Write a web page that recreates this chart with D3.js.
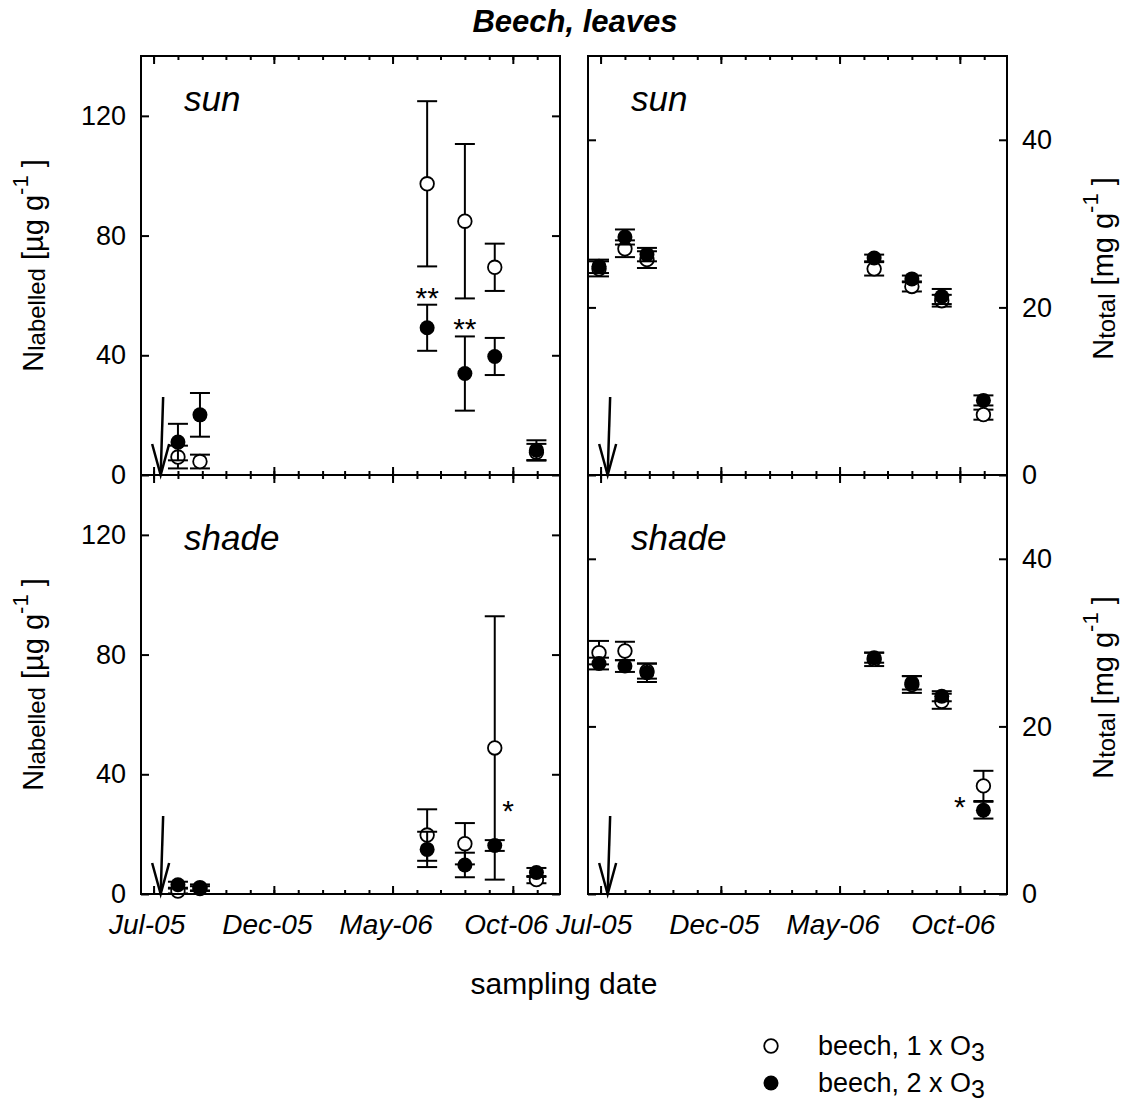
<!DOCTYPE html>
<html>
<head>
<meta charset="utf-8">
<script src="https://cdn.jsdelivr.net/npm/d3@7"></script>
<style>
  body { margin: 0; background: #fff; }
  svg text { font-family: "Liberation Sans", Arial, Helvetica, sans-serif; fill: #000; }
</style>
</head>
<body>
<svg id="chart" width="1130" height="1108"></svg>
<script>
// Beech leaves: 15N labelled N and total N, sun vs shade leaves, 1x and 2x O3

// sampling dates, shared by all panels
const sampleDates = ["2005-06-29", "2005-08-01", "2005-08-29", "2006-06-14", "2006-08-01", "2006-09-08", "2006-10-31"];
const labellingDate = "2005-07-10";

// N labelled [µg g-1], sun leaves (no value before labelling)
const sunLab1x    = [null, 6.0, 4.5, 97.3, 84.8, 69.4, 7.6];
const sunLab1xErr = [null, 3.8, 2.3, 27.6, 25.8, 7.9, 2.8];
const sunLab2x    = [null, 11.0, 20.1, 49.2, 33.9, 39.6, 8.3];
const sunLab2xErr = [null, 6.1, 7.3, 7.7, 12.4, 6.2, 3.3];

// N total [mg g-1], sun leaves
const sunTot1x    = [24.6, 27.0, 25.7, 24.6, 22.5, 20.8, 7.2];
const sunTot1xErr = [0.9, 1.0, 1.0, 0.8, 0.6, 0.7, 0.6];
const sunTot2x    = [24.9, 28.4, 26.3, 25.9, 23.4, 21.3, 8.9];
const sunTot2xErr = [0.8, 0.9, 0.8, 0.4, 0.4, 0.9, 0.6];

// N labelled [µg g-1], shade leaves
const shadeLab1x    = [null, 1.0, 1.8, 19.7, 16.8, 48.8, 4.8];
const shadeLab1xErr = [null, 0.8, 0.8, 8.6, 6.9, 44.0, 1.2];
const shadeLab2x    = [null, 3.1, 2.2, 14.9, 9.7, 16.2, 7.2];
const shadeLab2xErr = [null, 1.0, 1.0, 5.9, 4.1, 1.8, 1.5];

// N total [mg g-1], shade leaves
const shadeTot1x    = [28.8, 29.0, 26.6, 28.0, 25.0, 23.0, 12.9];
const shadeTot1xErr = [1.4, 1.1, 0.9, 0.8, 1.0, 0.9, 1.8];
const shadeTot2x    = [27.5, 27.2, 26.4, 28.2, 25.2, 23.6, 10.0];
const shadeTot2xErr = [0.7, 0.7, 1.1, 0.6, 0.8, 0.6, 1.0];

// significance marks
const sunLabStars   = [{date: "2006-06-14", value: 61.4, text: "**"}, {date: "2006-08-01", value: 51.1, text: "**"}];
const sunTotStars   = [];
const shadeLabStars = [{date: "2006-09-25", value: 30.2, text: "*"}];
const shadeTotStars = [{date: "2006-10-01", value: 11.2, text: "*"}];

// axis ticks
const majorTicks = ["2005-07-01", "2005-12-01", "2006-05-01", "2006-10-01"];
const labTicks = [0, 40, 80, 120];
const totTicks = [0, 20, 40];

const parse = d3.timeParse("%Y-%m-%d");
const fmt = d3.timeFormat("%b-%y");

// layout
const colX = [141, 588], rowY = [56, 475], PW = 419, PH = 419;
const labelBase = [111, 550];

const svg = d3.select("#chart");

const x = d3.scaleTime()
  .domain([parse("2005-06-15"), parse("2006-11-30")])
  .range([0, PW]);
const minorTicks = d3.timeMonth.range(x.domain()[0], x.domain()[1]);

const yLab = d3.scaleLinear().domain([0, 140]).range([PH, 0]);
const yTot = d3.scaleLinear().domain([0, 50]).range([PH, 0]);

const panels = [
  {col: 0, row: 0, label: "sun",   y: yLab, ticks: labTicks, open: sunLab1x,   openErr: sunLab1xErr,   filled: sunLab2x,   filledErr: sunLab2xErr,   stars: sunLabStars},
  {col: 1, row: 0, label: "sun",   y: yTot, ticks: totTicks, open: sunTot1x,   openErr: sunTot1xErr,   filled: sunTot2x,   filledErr: sunTot2xErr,   stars: sunTotStars},
  {col: 0, row: 1, label: "shade", y: yLab, ticks: labTicks, open: shadeLab1x, openErr: shadeLab1xErr, filled: shadeLab2x, filledErr: shadeLab2xErr, stars: shadeLabStars},
  {col: 1, row: 1, label: "shade", y: yTot, ticks: totTicks, open: shadeTot1x, openErr: shadeTot1xErr, filled: shadeTot2x, filledErr: shadeTot2xErr, stars: shadeTotStars}
];

// style the tick groups made by d3.axis
function styleAxis(a) {
  a.select(".domain").remove();
  a.selectAll("line").attr("stroke", "#000").attr("stroke-width", 2);
  a.selectAll("text").attr("font-size", 27).attr("fill", "#000")
    .attr("font-family", "'Liberation Sans', Arial, sans-serif");
}

// one series: error bars then circles
function drawSeries(g, y, values, errs, filled) {
  const pts = sampleDates.map((d, i) => ({date: parse(d), v: values[i], e: errs[i]}))
    .filter(d => d.v !== null);

  const eb = g.append("g").selectAll("g").data(pts).enter().append("g")
    .attr("stroke", "#000").attr("stroke-width", 2);
  eb.append("line")
    .attr("x1", d => x(d.date)).attr("x2", d => x(d.date))
    .attr("y1", d => y(d.v - d.e)).attr("y2", d => y(d.v + d.e));
  eb.append("line")
    .attr("x1", d => x(d.date) - 10).attr("x2", d => x(d.date) + 10)
    .attr("y1", d => y(d.v + d.e)).attr("y2", d => y(d.v + d.e));
  eb.append("line")
    .attr("x1", d => x(d.date) - 10).attr("x2", d => x(d.date) + 10)
    .attr("y1", d => y(d.v - d.e)).attr("y2", d => y(d.v - d.e));

  g.append("g").selectAll("circle").data(pts).enter().append("circle")
    .attr("cx", d => x(d.date))
    .attr("cy", d => y(d.v))
    .attr("r", filled ? 7.5 : 6.8)
    .attr("fill", filled ? "#000" : "#fff")
    .attr("stroke", "#000")
    .attr("stroke-width", filled ? 0 : 1.8);
}

panels.forEach(p => {
  const g = svg.append("g").attr("transform", `translate(${colX[p.col]},${rowY[p.row]})`);
  const y = p.y;

  // month ticks, bottom and top, pointing inward
  g.append("g").attr("transform", `translate(0,${PH})`)
    .call(d3.axisBottom(x).tickValues(minorTicks).tickSize(-4).tickFormat(""))
    .call(styleAxis);
  g.append("g").attr("transform", `translate(0,${PH})`)
    .call(d3.axisBottom(x).tickValues(majorTicks.map(parse)).tickSize(-8).tickPadding(20)
      .tickFormat(p.row === 1 ? fmt : ""))
    .call(styleAxis)
    .selectAll("text").attr("font-style", "italic").attr("font-size", 28).attr("dx", -7);
  g.append("g")
    .call(d3.axisTop(x).tickValues(minorTicks).tickSize(-4).tickFormat(""))
    .call(styleAxis);
  g.append("g")
    .call(d3.axisTop(x).tickValues(majorTicks.map(parse)).tickSize(-8).tickFormat(""))
    .call(styleAxis);

  // y ticks both sides
  g.append("g")
    .call(d3.axisLeft(y).tickValues(p.ticks).tickSize(-8).tickPadding(15)
      .tickFormat(p.col === 0 ? d3.format("d") : ""))
    .call(styleAxis);
  g.append("g").attr("transform", `translate(${PW},0)`)
    .call(d3.axisRight(y).tickValues(p.ticks).tickSize(-8).tickPadding(15)
      .tickFormat(p.col === 1 ? d3.format("d") : ""))
    .call(styleAxis);

  // labelling arrow
  const ax = x(parse(labellingDate));
  const arrow = g.append("g").attr("stroke", "#000").attr("stroke-width", 2.5).attr("fill", "none");
  arrow.append("line").attr("x1", ax + 2.5).attr("y1", PH - 78).attr("x2", ax).attr("y2", PH);
  arrow.append("path").attr("d", `M${ax - 8.5},${PH - 31}L${ax},${PH}L${ax + 8.5},${PH - 31}`);

  drawSeries(g, y, p.open, p.openErr, false);
  drawSeries(g, y, p.filled, p.filledErr, true);

  g.selectAll(".star").data(p.stars).enter().append("text")
    .attr("class", "star")
    .attr("x", d => x(parse(d.date)))
    .attr("y", d => y(d.value))
    .attr("dy", "0.57em")
    .attr("text-anchor", "middle")
    .attr("font-size", 30)
    .text(d => d.text);

  g.append("text")
    .attr("x", 43)
    .attr("y", labelBase[p.row] - rowY[p.row])
    .attr("font-size", 35)
    .attr("font-style", "italic")
    .text(p.label);

  g.append("rect")
    .attr("width", PW).attr("height", PH)
    .attr("fill", "none").attr("stroke", "#000").attr("stroke-width", 2);
});

// title
svg.append("text")
  .attr("x", 575).attr("y", 32)
  .attr("text-anchor", "middle")
  .attr("font-size", 31).attr("font-weight", "bold").attr("font-style", "italic")
  .text("Beech, leaves");

svg.append("text")
  .attr("x", 564).attr("y", 994)
  .attr("text-anchor", "middle")
  .attr("font-size", 30)
  .text("sampling date");

// y axis titles
function yTitle(tx, ty, sub, unit) {
  const t = svg.append("text")
    .attr("transform", `translate(${tx},${ty}) rotate(-90)`)
    .attr("text-anchor", "middle")
    .attr("font-size", 29);
  t.append("tspan").text("N");
  t.append("tspan").attr("font-size", 24).attr("dy", 2).text(sub);
  t.append("tspan").attr("dy", -2).text(" [" + unit + " g");
  t.append("tspan").attr("font-size", 22).attr("dy", -15).text("-1");
  t.append("tspan").attr("dy", 15).text(" ]");
}
rowY.forEach(ry => {
  yTitle(43, ry + PH / 2, "labelled", "µg");
  yTitle(1113, ry + PH / 2 + 3, "total", "mg");
});

// legend
const legendItems = [{label: "beech, 1 x O", filled: false}, {label: "beech, 2 x O", filled: true}];
const legend = svg.append("g");
legendItems.forEach((d, i) => {
  const ly = 1055 + i * 37;
  legend.append("circle")
    .attr("cx", 771).attr("cy", ly - 9)
    .attr("r", d.filled ? 7.5 : 6.8)
    .attr("fill", d.filled ? "#000" : "#fff")
    .attr("stroke", "#000").attr("stroke-width", d.filled ? 0 : 1.8);
  const t = legend.append("text").attr("x", 818).attr("y", ly).attr("font-size", 27);
  t.append("tspan").text(d.label);
  t.append("tspan").attr("font-size", 25).attr("dy", 6).text("3");
});
</script>
</body>
</html>
